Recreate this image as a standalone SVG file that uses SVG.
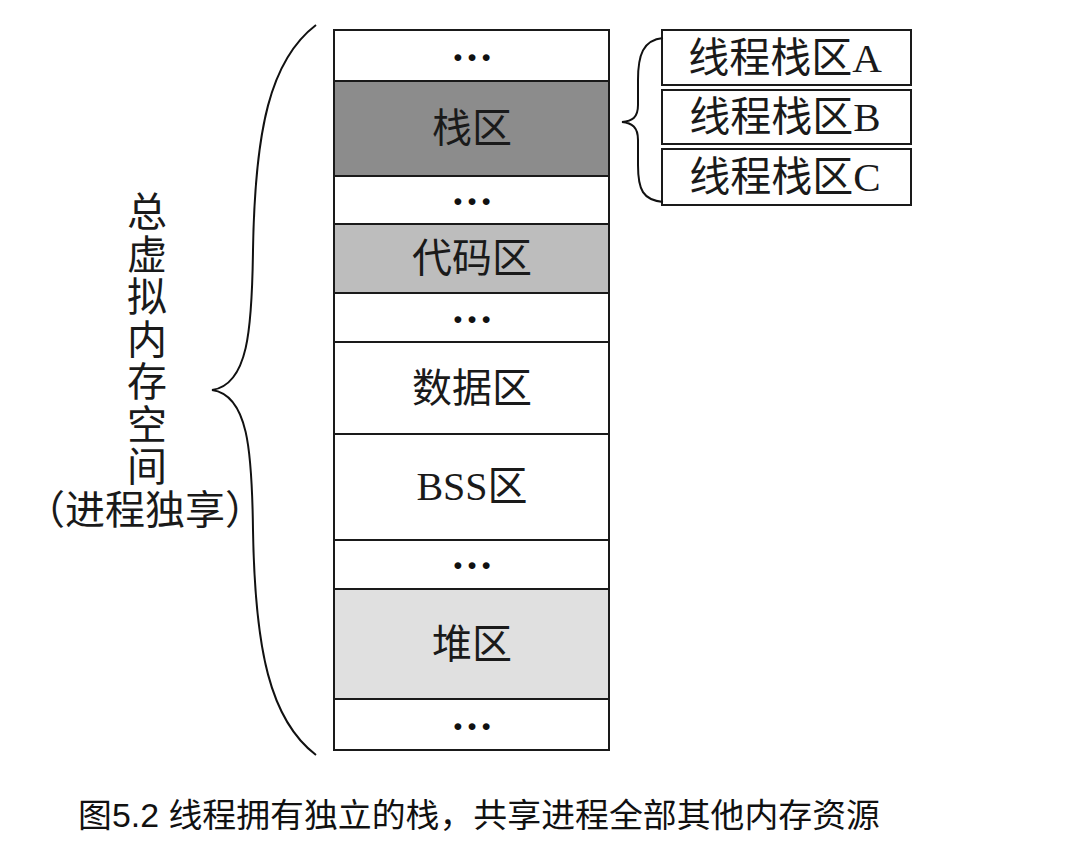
<svg xmlns="http://www.w3.org/2000/svg" width="1086" height="858" viewBox="0 0 1086 858">
<style>
.box{stroke:#1a1a1a;stroke-width:2;}
.t{font-family:"Liberation Serif","Noto Sans CJK SC",serif;font-size:40px;fill:#1a1a1a;text-anchor:middle;dominant-baseline:central;}
.tt{font-size:41px;}
.d{font-family:"Liberation Serif",serif;font-size:42px;font-weight:bold;fill:#111;text-anchor:middle;}
.br{fill:none;stroke:#111;stroke-width:2;}
.cap{font-family:"Liberation Sans","Noto Sans CJK SC",sans-serif;font-size:33px;fill:#111;}
</style>
<rect width="1086" height="858" fill="#fff"/>
<g id="memory">
<g id="r1"><rect class="box" x="334" y="30" width="275" height="51" fill="#fff"/><text class="d" x="472" y="61">…</text></g>
<g id="stack"><rect class="box" x="334" y="81" width="275" height="95" fill="#8c8c8c"/><text class="t" x="472" y="128">栈区</text></g>
<g id="r3"><rect class="box" x="334" y="176" width="275" height="48" fill="#fff"/><text class="d" x="472" y="205">…</text></g>
<g id="code"><rect class="box" x="334" y="224" width="275" height="69" fill="#bdbdbd"/><text class="t" x="472" y="258">代码区</text></g>
<g id="r5"><rect class="box" x="334" y="293" width="275" height="49" fill="#fff"/><text class="d" x="472" y="323">…</text></g>
<g id="data"><rect class="box" x="334" y="342" width="275" height="92" fill="#fff"/><text class="t" x="472" y="388">数据区</text></g>
<g id="bss"><rect class="box" x="334" y="434" width="275" height="106" fill="#fff"/><text class="t" x="472" y="486">BSS区</text></g>
<g id="r8"><rect class="box" x="334" y="540" width="275" height="49" fill="#fff"/><text class="d" x="472" y="569">…</text></g>
<g id="heap"><rect class="box" x="334" y="589" width="275" height="110" fill="#e0e0e0"/><text class="t" x="472" y="644">堆区</text></g>
<g id="r10"><rect class="box" x="334" y="699" width="275" height="51" fill="#fff"/><text class="d" x="472" y="730">…</text></g>
</g>
<g id="threadA"><rect class="box" x="662" y="30" width="249" height="55" fill="#fff"/><text class="t tt" x="785" y="58">线程栈区A</text></g>
<g id="threadB"><rect class="box" x="662" y="90" width="249" height="54" fill="#fff"/><text class="t tt" x="785" y="117">线程栈区B</text></g>
<g id="threadC"><rect class="box" x="662" y="149" width="249" height="56" fill="#fff"/><text class="t tt" x="785" y="177">线程栈区C</text></g>
<g id="connectors">
<path class="br" d="M663,38 C643,40 638,55 638,80 L638,105 C638,118 632,121 622,122 C632,123 638,127 638,140 L638,165 C638,190 643,200 663,202"/>
<path class="br" d="M316,25 C270,60 255,130 253,250 C252,330 248,385 212,390 C248,395 252,450 253,530 C255,650 270,720 316,755"/>
</g>
<g id="label">
<text class="t" x="147" y="212">总</text>
<text class="t" x="147" y="255">虚</text>
<text class="t" x="147" y="297">拟</text>
<text class="t" x="147" y="340">内</text>
<text class="t" x="147" y="382">存</text>
<text class="t" x="147" y="425">空</text>
<text class="t" x="147" y="467">间</text>
<text class="t" x="145" y="510">（进程独享）</text>
</g>
<text class="cap" x="78" y="827" textLength="802" lengthAdjust="spacingAndGlyphs">图5.2 线程拥有独立的栈，共享进程全部其他内存资源</text>
</svg>
